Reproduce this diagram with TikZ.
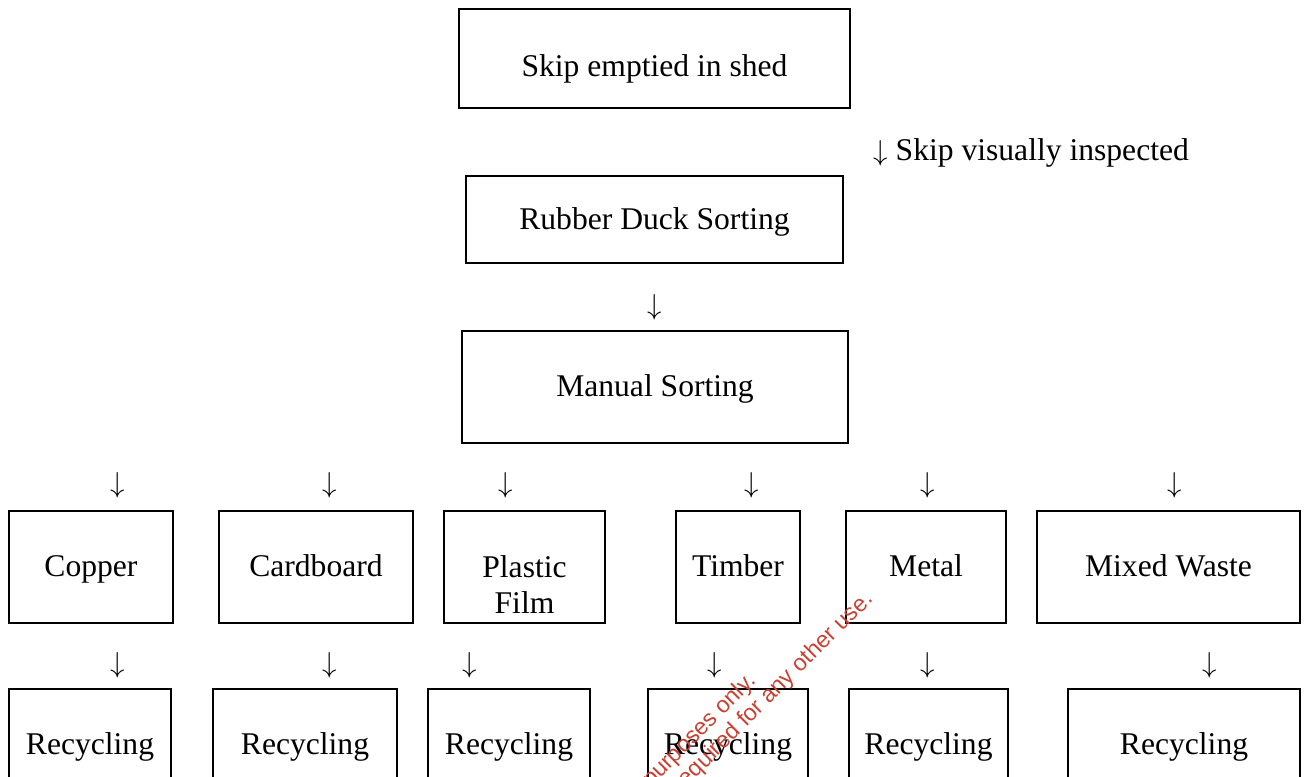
\documentclass[tikz,border=0pt]{standalone}
\usepackage{fontspec}
\setmainfont{Liberation Serif}
\newfontfamily\stampfont{Liberation Sans}
\definecolor{stampred}{RGB}{200,65,50}
\tikzset{
  flowbox/.style={rectangle, draw=black, line width=1pt, inner sep=0pt, text centered, text height=13pt, text depth=3.5pt, font=\fontsize{15.8}{18}\selectfont},
  downarr/.style={inner sep=0pt, font=\fontsize{15.8}{18}\selectfont},
  stamp/.style={text=stampred, rotate=45, inner sep=0pt, font=\stampfont\fontsize{11.6}{14}\selectfont},
}
\begin{document}
\begin{tikzpicture}[x=0.5pt, y=-0.5pt]
\useasboundingbox (0,0) rectangle (1305,776);
\clip (0,0) rectangle (1305,776);
% top of the line
\node[flowbox, minimum width=195.5pt, minimum height=49.5pt] (shed) at (654.5,58.5) {};
\node[downarr, anchor=base] (shedtxt) at (654.5,76) {Skip emptied in shed};
\node[downarr, anchor=base west] (inspect) at (873,160) {$\downarrow$ Skip visually inspected};
\node[flowbox, minimum width=188.5pt, minimum height=43.5pt] (duck) at (654.5,219.5) {Rubber Duck Sorting};
\node[downarr] (a0) at (655,307) {$\downarrow$};
\node[flowbox, minimum width=193pt, minimum height=56pt] (manual) at (655,387) {Manual Sorting};
% sorted streams
\node[downarr] (a1) at (118,485) {$\downarrow$};
\node[downarr] (a2) at (330,485) {$\downarrow$};
\node[downarr] (a3) at (506,485) {$\downarrow$};
\node[downarr] (a4) at (752,485) {$\downarrow$};
\node[downarr] (a5) at (928,485) {$\downarrow$};
\node[downarr] (a6) at (1175,485) {$\downarrow$};
\node[flowbox, minimum width=82pt, minimum height=56pt] (copper) at (91,567) {Copper};
\node[flowbox, minimum width=97pt, minimum height=56pt] (cardboard) at (316,567) {Cardboard};
\node[flowbox, minimum width=80.5pt, minimum height=56pt] (plastic) at (524.5,567) {};
\node[downarr, align=center] (plastictxt) at ([yshift=-9pt]plastic.center) {Plastic\\Film};
\node[flowbox, minimum width=62pt, minimum height=56pt] (timber) at (738,567) {Timber};
\node[flowbox, minimum width=80pt, minimum height=56pt] (metal) at (926,567) {Metal};
\node[flowbox, minimum width=131.5pt, minimum height=56pt] (mixed) at (1168.5,567) {Mixed Waste};
% recycling
\node[downarr] (b1) at (118,665) {$\downarrow$};
\node[downarr] (b2) at (330,665) {$\downarrow$};
\node[downarr] (b3) at (470,665) {$\downarrow$};
\node[downarr] (b4) at (715,665) {$\downarrow$};
\node[downarr] (b5) at (928,665) {$\downarrow$};
\node[downarr] (b6) at (1210,665) {$\downarrow$};
\node[flowbox, minimum width=81pt, minimum height=56pt] (r1) at (90,745) {Recycling};
\node[flowbox, minimum width=92pt, minimum height=56pt] (r2) at (305,745) {Recycling};
\node[flowbox, minimum width=81pt, minimum height=56pt] (r3) at (509,745) {Recycling};
\node[flowbox, minimum width=80pt, minimum height=56pt] (r4) at (728,745) {Recycling};
\node[flowbox, minimum width=79.5pt, minimum height=56pt] (r5) at (928.5,745) {Recycling};
\node[flowbox, minimum width=116pt, minimum height=56pt] (r6) at (1184,745) {Recycling};
% stamp across the page
\node[stamp, anchor=base east] (wm1) at (757,682) {purposes only.};
\node[stamp, anchor=base east] (wm2) at (874,600) {required for any other use.};
\end{tikzpicture}
\end{document}
